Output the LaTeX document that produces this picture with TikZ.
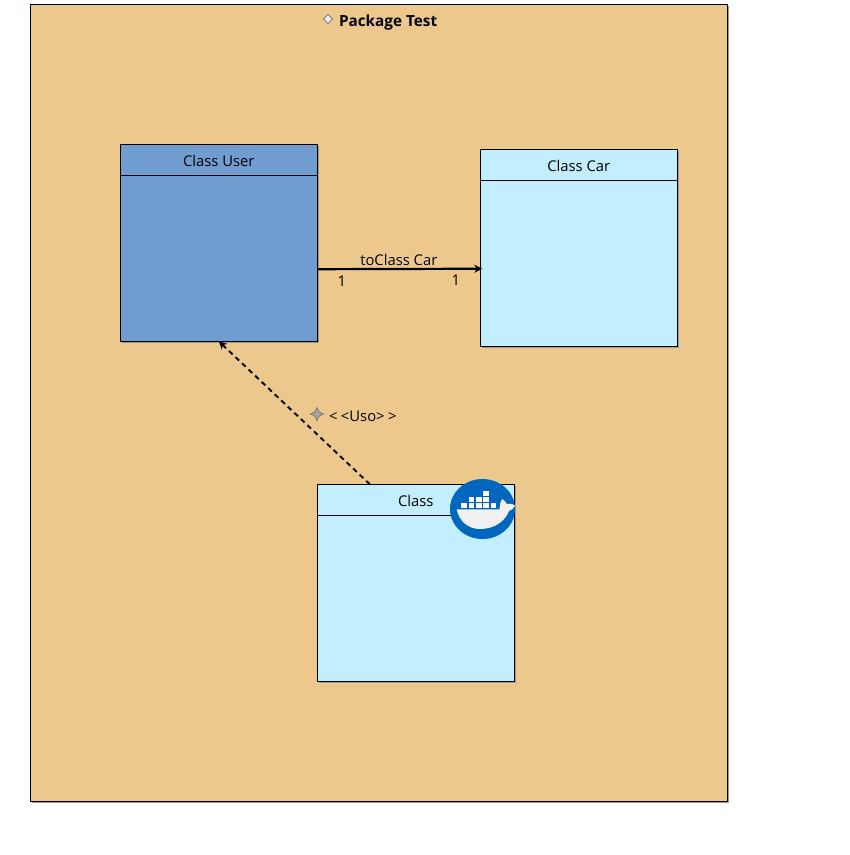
\documentclass[tikz,border=0pt]{standalone}
\usepackage{xcolor}
\usepackage{fontspec}
\setmainfont{Open Sans}
\usepackage{tikz}
\usetikzlibrary{positioning,shapes.geometric,shadows,arrows.meta}
\definecolor{pkgtan}{HTML}{ECC88C}
\definecolor{userblue}{HTML}{719CD0}
\definecolor{classcyan}{HTML}{C2EEFF}
\definecolor{dockerblue}{HTML}{0066BE}
\definecolor{whalewhite}{HTML}{F1F1F3}

\begin{document}
\begin{tikzpicture}[x=1pt, y=-1pt, >={Stealth[length=8pt,width=8pt]},
    every node/.style={font=\fontsize{14.8}{18}\selectfont, inner sep=0pt, outer sep=0pt},
    boxshadow/.style={drop shadow={shadow xshift=2pt, shadow yshift=-2pt, fill=black!40, opacity=1}},
    classbox/.style={draw=black, line width=0.8pt, minimum width=197pt, minimum height=197pt, boxshadow},
    titlebox/.style={draw=black, line width=0.8pt, minimum width=197pt, minimum height=31pt, anchor=north, text height=13pt, text depth=0pt}]
    \useasboundingbox (0,0) rectangle (850,855);
    \node (pkg) at (378.7,402.7) [draw=black, line width=0.8pt, fill=pkgtan, minimum width=697.5pt, minimum height=797.5pt, boxshadow] {};
    \node (pkgicon) at (328,19) [diamond, draw=gray, fill=white!85!gray, line width=0.8pt, minimum width=9pt, minimum height=9pt] {};
    \node (pkgtitle) [right=6.5pt of pkgicon, yshift=-4pt, font=\fontsize{15.3}{18}\selectfont\bfseries] {Package Test};

    \node (user) at (218.8,242.8) [classbox, fill=userblue] {};
    \node (usertitle) at (user.north) [titlebox] {Class User};
    \node (car) [classbox, fill=classcyan, right=163pt of user, yshift=-5pt] {};
    \node (cartitle) at (car.north) [titlebox] {Class Car};
    \node (cls) [classbox, fill=classcyan, below=143pt of user, xshift=197pt] {};
    \node (clstitle) at (cls.north) [titlebox] {Class};

    \draw[->, line width=2.2pt, shorten >=-2pt] (user.-15.4) -- (car.192.4)
        node (tolabel) [pos=.5, above=3pt] {toClass Car}
        node (srcmult) [pos=.15, below=6.5pt] {1}
        node (dstmult) [pos=.85, below=6.5pt] {1};
    \draw[->, line width=1.9pt, dash pattern=on 5pt off 4pt] (cls.115.3) -- (user.south);

    \node (usoicon) at (317,414) [star, star points=4, star point ratio=2.2, draw=gray!90!black, fill=gray!70, line width=0.7pt, minimum size=13pt] {};
    \node (usolabel) [right=5.5pt of usoicon, yshift=-2.5pt] {{<}\kern3.5pt{<}Uso{>}\kern3.5pt{>}};

    % docker badge
    \node (docker) at (482.5,509) [ellipse, fill=dockerblue, minimum width=65pt, minimum height=60pt] {};
    \fill[whalewhite] (456.7,509.3) -- (499.5,509.3) .. controls (500,504) and (500.5,501) .. (502,499)
        .. controls (505,501) and (506,502) .. (506.7,504) .. controls (510,503) and (513,504) .. (515,505.5)
        .. controls (513,509) and (511,510.5) .. (509,511)
        .. controls (505,521) and (495,529) .. (480,529) .. controls (468,529) and (459,521) .. cycle;
    \foreach \bx in {461.3,468.6,476,483.3,490.6}
        \fill[white] (\bx,502.8) rectangle ++(5.5,5.5);
    \foreach \bx in {468.6,476,483.3}
        \fill[white] (\bx,496.8) rectangle ++(5.5,5.5);
    \fill[white] (483.3,490.8) rectangle ++(5.5,5.5);
\end{tikzpicture}
\end{document}
